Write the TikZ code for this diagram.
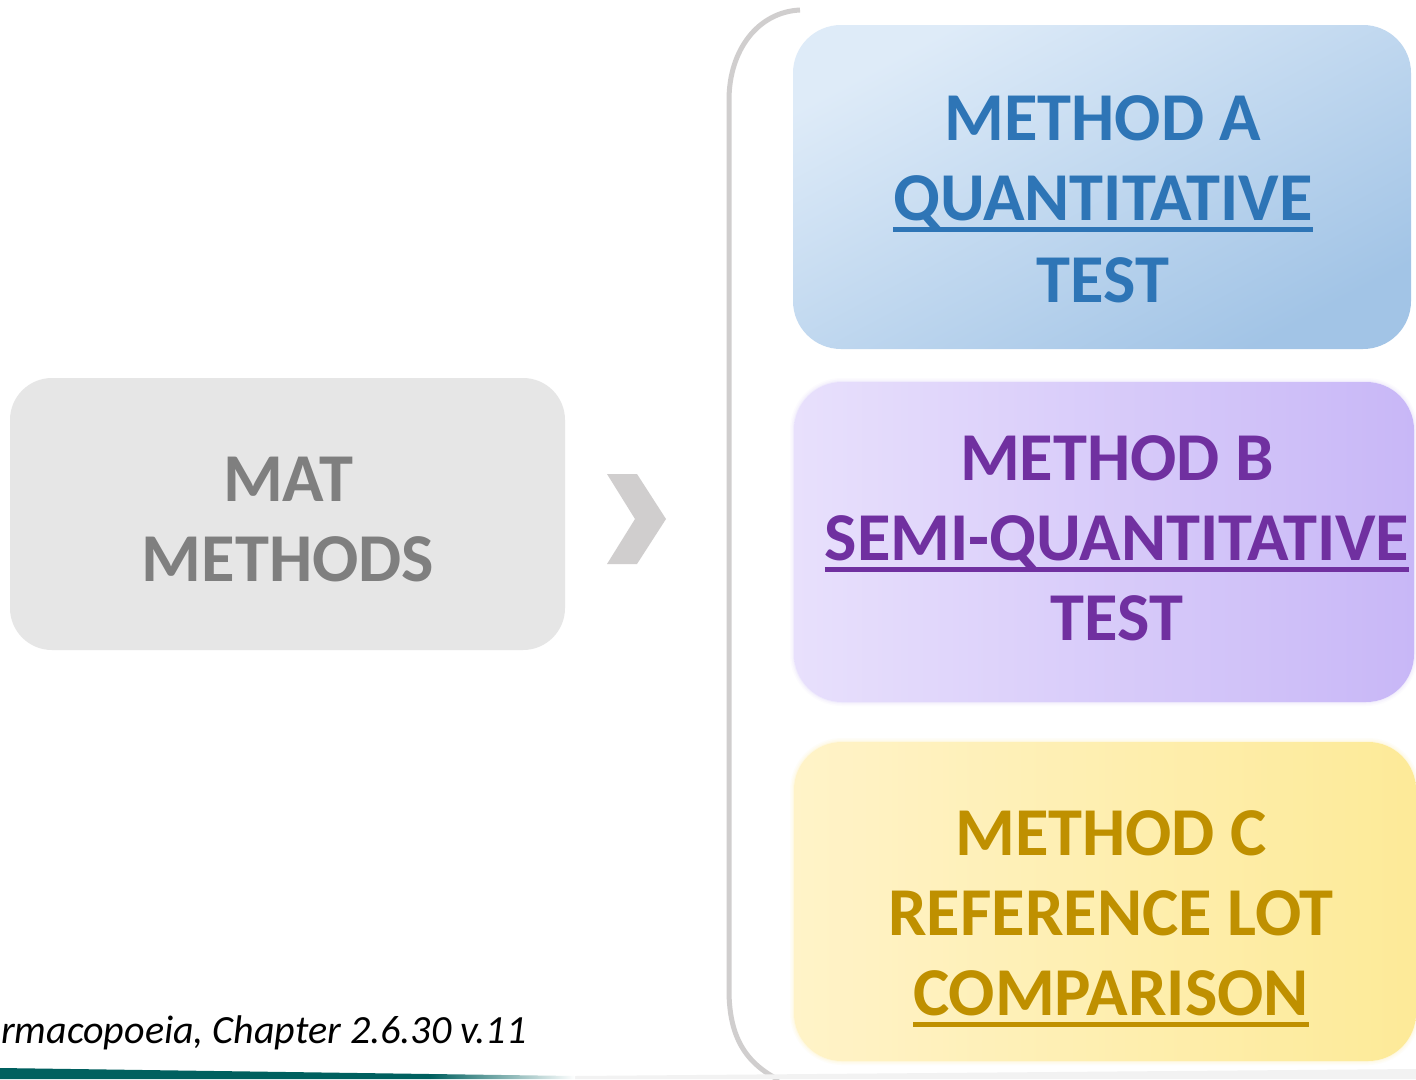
\documentclass[tikz,border=0pt]{standalone}
\usepackage{fontspec}
\setmainfont{Carlito}
\usetikzlibrary{calc}

\definecolor{matfill}{HTML}{E6E6E6}
\definecolor{mattext}{HTML}{7F7F7F}
\definecolor{brace}{HTML}{D0CECE}
\definecolor{atop}{HTML}{DEEBF8}
\definecolor{abot}{HTML}{A2C4E6}
\definecolor{atext}{HTML}{2E75B6}
\definecolor{bleft}{HTML}{E8E0FC}
\definecolor{bright}{HTML}{C8B7F7}
\definecolor{bedge}{HTML}{E3DAFB}
\definecolor{btext}{HTML}{7030A0}
\definecolor{cleft}{HTML}{FFF3C8}
\definecolor{cright}{HTML}{FDEA98}
\definecolor{cedge}{HTML}{FEF2C4}
\definecolor{ctext}{HTML}{BF9000}
\definecolor{teal}{HTML}{00605F}
\definecolor{footgrey}{HTML}{F2F2F2}

% underline with a heavier rule, as in the method labels
\newcommand{\heavyul}[1]{\setbox0\hbox{#1}\rlap{\rule[-0.17em]{\wd0}{0.065em}}\box0}

\tikzset{
  bigtxt/.style={font=\bfseries\fontsize{68.5}{80}\selectfont, inner sep=0pt, anchor=base},
  methodbox/.style={rounded corners=48, draw=none},
}

\begin{document}
\begin{tikzpicture}[x=1pt,y=-1pt]
\useasboundingbox (0,0) rectangle (1416,1079);
\fill[white] (0,0) rectangle (1416,1079);

% left box
\fill[matfill, rounded corners=42] (10,378) rectangle (565,650);
\node[bigtxt, text=mattext] (mat1) at (288,501) {MAT};
\node[bigtxt, text=mattext] (mat2) at (288,581) {METHODS};

% chevron
\fill[brace] (607,474) -- (637,474) -- (666,519) -- (637,564) -- (607,564) -- (635,519) -- cycle;

% bracket grouping the methods
\draw[brace, line width=5] (800,10) .. controls (758,12) and (729,50) .. (729,100)
  -- (729,990) .. controls (729,1040) and (748,1064) .. (779,1080);

% method A
\shade[methodbox, top color=atop, bottom color=abot, shading angle=28]
  (793,25) rectangle (1411,349);
\node[bigtxt, text=atext] (a1) at (1103,140) {METHOD A};
\node[bigtxt, text=atext] (a2) at (1103,220) {\heavyul{QUANTITATIVE}};
\node[bigtxt, text=atext] (a3) at (1103,302) {TEST};

% method B (soft edge)
\foreach \e/\o in {4/0.1,2.5/0.18,1/0.3}
  \fill[bedge, opacity=\o, rounded corners=48+\e] (794-\e,382-\e) rectangle (1414+\e,702+\e);
\shade[methodbox, left color=bleft, right color=bright]
  (794,382) rectangle (1414,702);
\node[bigtxt, text=btext] (b1) at (1117,480) {METHOD B};
\node[bigtxt, text=btext] (b2) at (1117,560) {\heavyul{SEMI-QUANTITATIVE}};
\node[bigtxt, text=btext] (b3) at (1117,640) {TEST};

% method C (soft edge)
\foreach \e/\o in {4/0.1,2.5/0.18,1/0.3}
  \fill[cedge, opacity=\o, rounded corners=48+\e] (794-\e,742-\e) rectangle (1416+\e,1061+\e);
\shade[methodbox, left color=cleft, right color=cright]
  (794,742) rectangle (1416,1061);
\node[bigtxt, text=ctext] (c1) at (1111,855) {METHOD C};
\node[bigtxt, text=ctext] (c2) at (1111,935) {REFERENCE LOT};
\node[bigtxt, text=ctext] (c3) at (1111,1015) {\heavyul{COMPARISON}};

% footer
\node[font=\itshape\fontsize{40}{48}\selectfont, inner sep=0pt, anchor=base west] (src) at (1,1043)
  {rmacopoeia, Chapter 2.6.30 v.11};
\fill[footgrey] (575,1076) -- (1416,1069) -- (1416,1079) -- (575,1079) -- cycle;
\fill[teal] (0,1068) -- (430,1074) -- (430,1079) -- (0,1079) -- cycle;
\shade[left color=teal, right color=white] (430,1074) -- (575,1076) -- (575,1079) -- (430,1079) -- cycle;
\end{tikzpicture}
\end{document}
